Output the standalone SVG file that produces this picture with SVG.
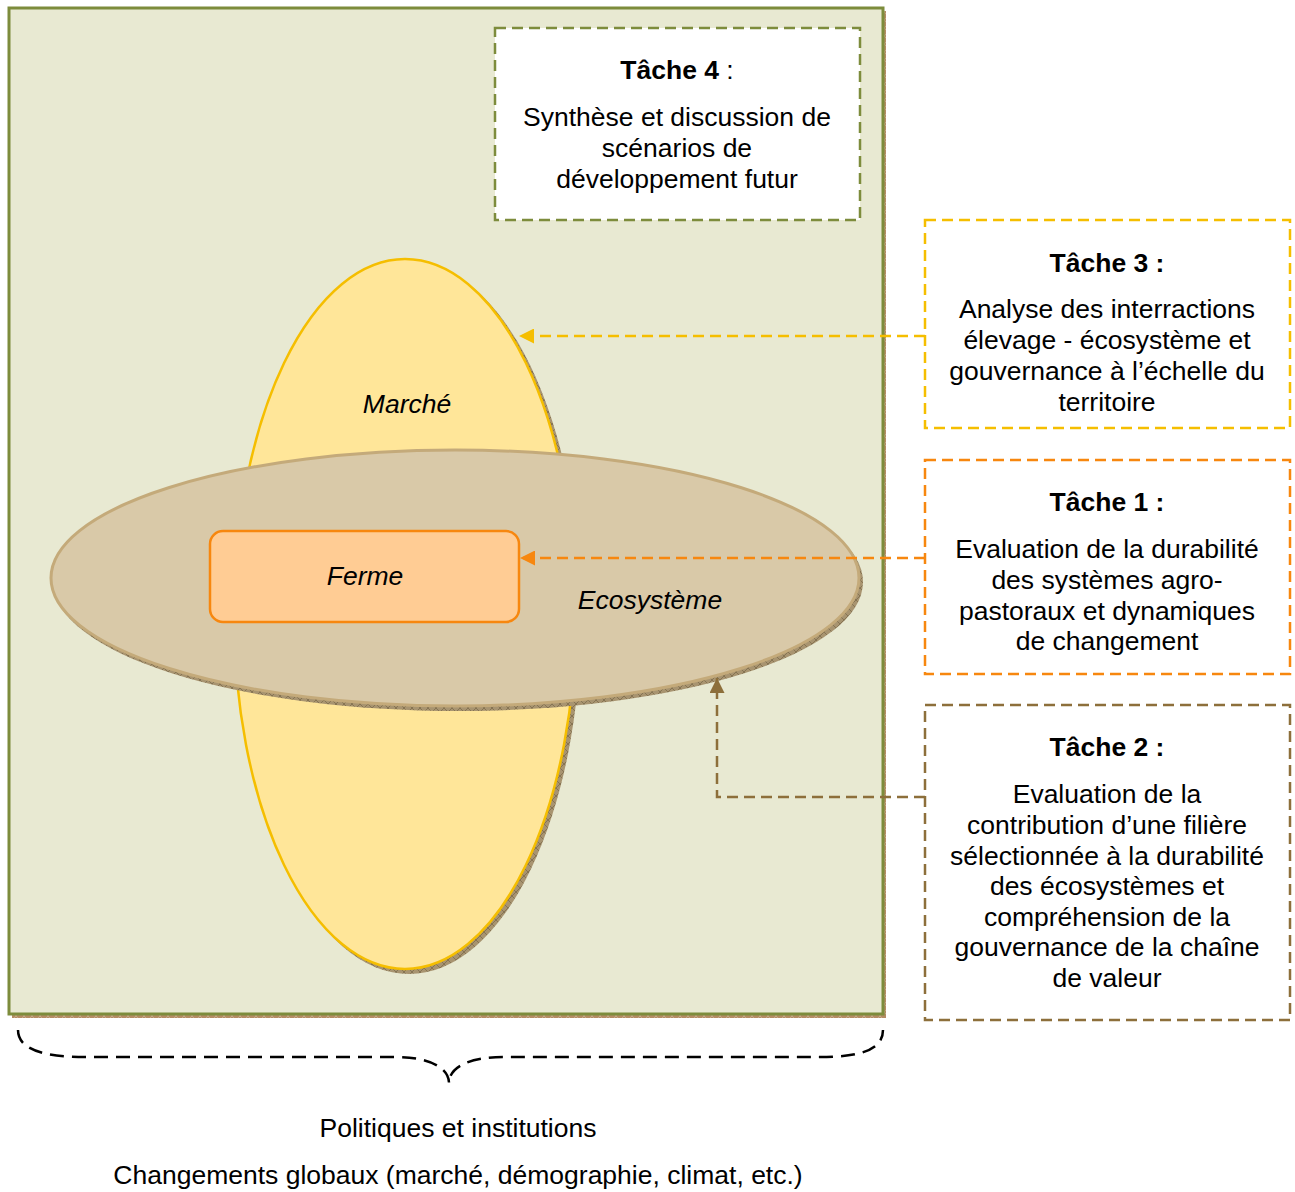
<svg xmlns="http://www.w3.org/2000/svg" width="1295" height="1192" viewBox="0 0 1295 1192">
<defs>
<pattern id="hatch" width="8" height="8" patternUnits="userSpaceOnUse">
<rect width="8" height="8" fill="#A89470"/>
<path d="M0,0 L8,8 M8,0 L0,8" stroke="#6E5E40" stroke-width="0.6"/>
</pattern>
<pattern id="hatchB" width="8" height="8" patternUnits="userSpaceOnUse">
<rect width="8" height="8" fill="#B58C64"/>
<path d="M0,0 L8,8 M8,0 L0,8" stroke="#C9AE90" stroke-width="0.8"/>
</pattern>
<marker id="arrY" viewBox="0 0 10 10" refX="10" refY="5" markerWidth="6" markerHeight="6" markerUnits="strokeWidth" orient="auto"><path d="M0,0 L10,5 L0,10 Z" fill="#F5BE00"/></marker>
<marker id="arrO" viewBox="0 0 10 10" refX="10" refY="5" markerWidth="6" markerHeight="6" markerUnits="strokeWidth" orient="auto"><path d="M0,0 L10,5 L0,10 Z" fill="#F7870F"/></marker>
<marker id="arrB" viewBox="0 0 10 10" refX="10" refY="5" markerWidth="6" markerHeight="6" markerUnits="strokeWidth" orient="auto"><path d="M0,0 L10,5 L0,10 Z" fill="#8D6F3B"/></marker>
</defs>
<style>
text{font-family:"Liberation Sans",Arial,sans-serif;font-size:26.5px;fill:#000;text-anchor:middle}
.b{font-weight:bold}
.i{font-style:italic}
.task{fill:#fff;stroke-width:2.5;stroke-dasharray:11 6}
.conn{fill:none;stroke-width:2.5;stroke-dasharray:11 6}
</style>
<rect width="1295" height="1192" fill="#fff"/>
<g id="frame">
<rect x="12" y="11" width="874" height="1007" fill="url(#hatchB)"/>
<rect x="9" y="8" width="874" height="1006" fill="#E8E9D2" stroke="#7D8C3C" stroke-width="3"/>
</g>
<g id="tache4">
<rect class="task" x="495" y="28" width="365" height="192" stroke="#7D8C3C"/>
<text x="677" y="79"><tspan class="b">Tâche 4</tspan> :</text>
<text x="677" y="126">Synthèse et discussion de</text>
<text x="677" y="157">scénarios de</text>
<text x="677" y="188">développement futur</text>
</g>
<g id="marche">
<ellipse cx="409" cy="618" rx="172" ry="356" fill="url(#hatch)"/>
<ellipse cx="405" cy="614" rx="171" ry="355" fill="#FFE699" stroke="#F5BE00" stroke-width="2.5"/>
<text class="i" x="407" y="413">Marché</text>
</g>
<g id="ecosysteme">
<ellipse cx="458" cy="582" rx="405" ry="129" fill="url(#hatch)"/>
<ellipse cx="455" cy="578" rx="404" ry="128" fill="#D9C9A8" stroke="#C4AA7A" stroke-width="3"/>
<text class="i" x="650" y="609">Ecosystème</text>
</g>
<g id="ferme">
<rect x="210" y="531" width="309" height="91" rx="13" fill="#FFCC94" stroke="#F7870F" stroke-width="2.5"/>
<text class="i" x="365" y="585">Ferme</text>
</g>
<g id="connectors">
<path class="conn" d="M925,336 L519,336" stroke="#F5BE00" marker-end="url(#arrY)"/>
<path class="conn" d="M925,558 L520,558" stroke="#F7870F" marker-end="url(#arrO)"/>
<path class="conn" d="M925,797 L717,797 L717,678" stroke="#8D6F3B" marker-end="url(#arrB)"/>
<path d="M18,1030 C18,1050 45,1057 85,1057 L395,1057 C430,1057 449,1068 449,1083 C449,1068 468,1057 503,1057 L820,1057 C860,1057 883,1050 883,1030" fill="none" stroke="#000" stroke-width="2.5" stroke-dasharray="14 8"/>
</g>
<g id="tache3">
<rect class="task" x="925" y="220" width="365" height="208" stroke="#F5BE00"/>
<text class="b" x="1107" y="272">Tâche 3 :</text>
<text x="1107" y="318">Analyse des interractions</text>
<text x="1107" y="349">élevage - écosystème et</text>
<text x="1107" y="380">gouvernance à l’échelle du</text>
<text x="1107" y="411">territoire</text>
</g>
<g id="tache1">
<rect class="task" x="925" y="460" width="365" height="214" stroke="#F7870F"/>
<text class="b" x="1107" y="511">Tâche 1 :</text>
<text x="1107" y="558">Evaluation de la durabilité</text>
<text x="1107" y="589">des systèmes agro-</text>
<text x="1107" y="620">pastoraux et dynamiques</text>
<text x="1107" y="650">de changement</text>
</g>
<g id="tache2">
<rect class="task" x="925" y="705" width="365" height="315" stroke="#8D6F3B"/>
<text class="b" x="1107" y="756">Tâche 2 :</text>
<text x="1107" y="803">Evaluation de la</text>
<text x="1107" y="834">contribution d’une filière</text>
<text x="1107" y="865">sélectionnée à la durabilité</text>
<text x="1107" y="895">des écosystèmes et</text>
<text x="1107" y="926">compréhension de la</text>
<text x="1107" y="956">gouvernance de la chaîne</text>
<text x="1107" y="987">de valeur</text>
</g>
<g id="contexte">
<text x="458" y="1137">Politiques et institutions</text>
<text x="458" y="1184">Changements globaux (marché, démographie, climat, etc.)</text>
</g>
</svg>
